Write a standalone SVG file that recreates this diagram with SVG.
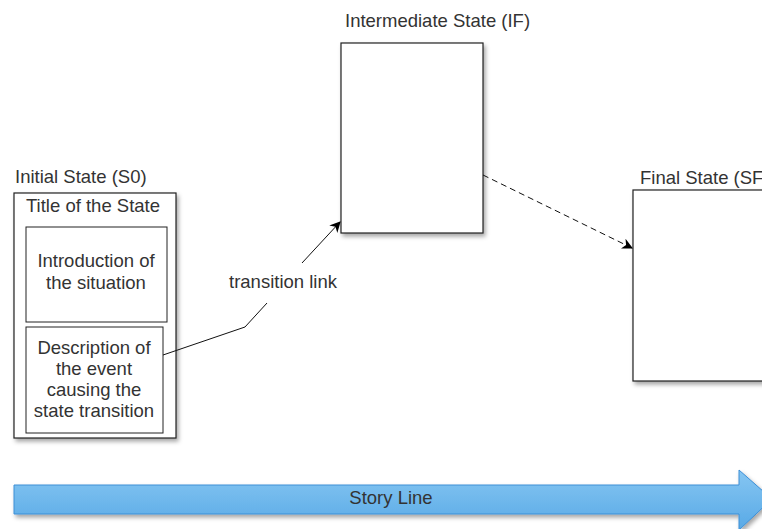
<svg xmlns="http://www.w3.org/2000/svg" width="762" height="529" viewBox="0 0 762 529">
  <defs>
    <filter id="shadow" x="-10%" y="-10%" width="130%" height="130%">
      <feDropShadow dx="2" dy="3" stdDeviation="2" flood-color="#000" flood-opacity="0.35"/>
    </filter>
    <linearGradient id="blueGrad" x1="0" y1="0" x2="0" y2="1">
      <stop offset="0" stop-color="#86c6f2"/>
      <stop offset="1" stop-color="#58a9e6"/>
    </linearGradient>
    <marker id="arrow" viewBox="0 0 10 10" refX="9" refY="5" markerWidth="11" markerHeight="11" markerUnits="userSpaceOnUse" orient="auto">
      <path d="M0,0 L10,5 L0,10 L3,5 Z" fill="#000"/>
    </marker>
    <style>
      .box { fill: #fff; stroke: #222; stroke-width: 1.2; }
      .inner { fill: #fff; stroke: #222; stroke-width: 1; }
      .lbl { font-family: "Liberation Sans", Arial, sans-serif; font-size: 18.5px; fill: #333; }
      .mid { text-anchor: middle; }
      .conn { fill: none; stroke: #111; stroke-width: 1; }
      .dash { stroke-dasharray: 6 4; }
    </style>
  </defs>

  <rect width="762" height="529" fill="#fff"/>

  <!-- Initial state -->
  <g id="initial-state">
    <text class="lbl" x="15" y="183">Initial State (S0)</text>
    <rect class="box" x="14" y="193" width="162" height="245" filter="url(#shadow)"/>
    <text class="lbl mid" x="93" y="212">Title of the State</text>
    <rect class="inner" x="26" y="227" width="141" height="95"/>
    <text class="lbl mid" x="96" y="267">Introduction of</text>
    <text class="lbl mid" x="96" y="289">the situation</text>
    <rect class="inner" x="26" y="327" width="137" height="106"/>
    <text class="lbl mid" x="94" y="354">Description of</text>
    <text class="lbl mid" x="94" y="375">the event</text>
    <text class="lbl mid" x="94" y="396">causing the</text>
    <text class="lbl mid" x="94" y="417">state transition</text>
  </g>

  <!-- Intermediate state -->
  <g id="intermediate-state">
    <text class="lbl" x="345" y="27">Intermediate State (IF)</text>
    <rect class="box" x="341" y="43" width="142" height="190" filter="url(#shadow)"/>
  </g>

  <!-- Final state -->
  <g id="final-state">
    <text class="lbl" x="640" y="184">Final State (SF</text>
    <rect class="box" x="633" y="190" width="140" height="191" filter="url(#shadow)"/>
  </g>

  <!-- Connectors -->
  <g id="connectors">
    <path class="conn" d="M163,355 L245,327 L267,303"/>
    <path class="conn" d="M302,263 L340,222" marker-end="url(#arrow)"/>
    <text class="lbl mid" x="283" y="288">transition link</text>
    <path class="conn dash" d="M483,175 L632,248" marker-end="url(#arrow)"/>
  </g>

  <!-- Story line -->
  <g id="story-line">
    <path d="M14,485 L739,485 L739,470 L772,499 L739,530 L739,514 L14,514 Z" fill="url(#blueGrad)" stroke="#3d8fd6" stroke-width="1" filter="url(#shadow)"/>
    <text class="lbl mid" x="391" y="504" fill="#222">Story Line</text>
  </g>
</svg>
